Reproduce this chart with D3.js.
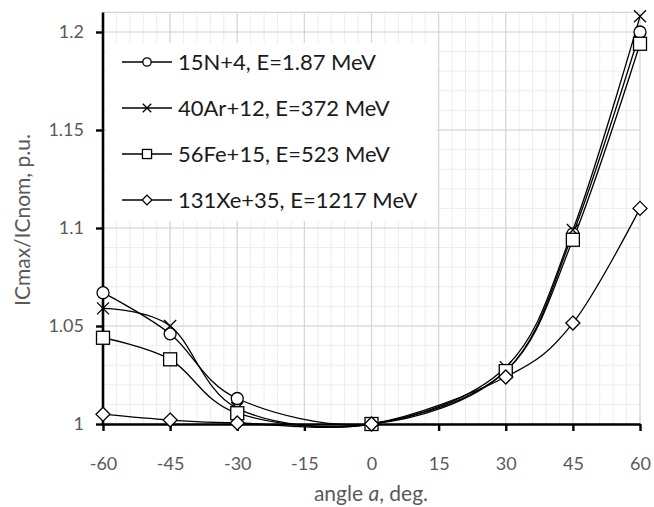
<!DOCTYPE html>
<html>
<head>
<meta charset="utf-8">
<script src="https://cdn.jsdelivr.net/npm/d3@7"></script>
<style>
  html, body { margin: 0; padding: 0; background: #fff; }
  svg { display: block; font-family: "Lato", "Open Sans", sans-serif; }
</style>
</head>
<body>
<svg id="chart" width="654" height="507"></svg>
<script>
// ---- data ----
const angles = [-60, -45, -30, 0, 30, 45, 60];
const seriesNames = ["15N+4, E=1.87 MeV", "40Ar+12, E=372 MeV", "56Fe+15, E=523 MeV", "131Xe+35, E=1217 MeV"];
const n15 = [1.067, 1.046, 1.013, 1.000, 1.027, 1.097, 1.200];
const ar40 = [1.059, 1.050, 1.008, 1.000, 1.029, 1.099, 1.208];
const fe56 = [1.044, 1.033, 1.0055, 1.000, 1.027, 1.094, 1.194];
const xe131 = [1.005, 1.002, 1.0005, 1.000, 1.024, 1.0515, 1.110];
const markers = ["circle", "cross", "square", "diamond"];
const xTicks = [-60, -45, -30, -15, 0, 15, 30, 45, 60];
const xTickLabels = ["-60", "-45", "-30", "-15", "0", "15", "30", "45", "60"];
const yTicks = [1, 1.05, 1.1, 1.15, 1.2];
const yTickLabels = ["1", "1.05", "1.1", "1.15", "1.2"];
const xTitle = ["angle ", "a", ", deg."];
const yTitle = "ICmax/ICnom, p.u.";

const allSeries = [n15, ar40, fe56, xe131];

// ---- layout ----
const svg = d3.select("#chart");
const L = 103, R = 640, T = 12.4, B = 424;
const x = d3.scaleLinear().domain([-60, 60]).range([L, R]);
const y = d3.scaleLinear().domain([1, 1.21]).range([B, T]);

// grid: minor
const g = svg.append("g");
g.selectAll(".mx").data(d3.range(-60, 61, 3)).join("line")
  .attr("x1", d => x(d)).attr("x2", d => x(d)).attr("y1", T).attr("y2", B)
  .attr("stroke", "#ededed").attr("stroke-width", 1);
g.selectAll(".my").data(d3.range(0, 22).map(i => 1 + i * 0.01)).join("line")
  .attr("x1", L).attr("x2", R).attr("y1", d => y(d)).attr("y2", d => y(d))
  .attr("stroke", "#ededed").attr("stroke-width", 1);
// grid: major
g.append("g").selectAll("line").data(xTicks).join("line")
  .attr("x1", d => x(d)).attr("x2", d => x(d)).attr("y1", T).attr("y2", B)
  .attr("stroke", "#d6d6d6").attr("stroke-width", 1.2);
g.append("g").selectAll("line").data(yTicks.concat([1.21])).join("line")
  .attr("x1", L).attr("x2", R).attr("y1", d => y(d)).attr("y2", d => y(d))
  .attr("stroke", "#d6d6d6").attr("stroke-width", 1.2);

// legend background
svg.append("rect").attr("x", 106).attr("y", 43).attr("width", 331).attr("height", 178).attr("fill", "#fff");

// axes
const xAxis = d3.axisBottom(x).tickValues(xTicks).tickSize(7).tickSizeOuter(0).tickPadding(26)
  .tickFormat((d, i) => xTickLabels[i]);
const yAxis = d3.axisLeft(y).tickValues(yTicks).tickSize(7).tickSizeOuter(0).tickPadding(12)
  .tickFormat((d, i) => yTickLabels[i]);

const gx = svg.append("g").attr("transform", `translate(0,${B})`).call(xAxis);
const gy = svg.append("g").attr("transform", `translate(${L},0)`).call(yAxis);
[gx, gy].forEach(a => {
  a.select(".domain").attr("stroke", "#000").attr("stroke-width", 2.6);
  a.selectAll(".tick text").attr("fill", "#595959").attr("font-size", 18).attr("font-family", "Lato, sans-serif");
});
gx.selectAll(".tick line").attr("stroke", "#000").attr("stroke-width", 2.4).attr("y1", 0).attr("y2", 7);
gy.selectAll(".tick line").attr("stroke", "#000").attr("stroke-width", 2.4);
gy.select(".domain").attr("d", `M0,${B}V${T}`);

// lines
const line = d3.line().x((d, i) => x(angles[i])).y(d => y(d)).curve(d3.curveCatmullRom.alpha(0));
const sg = svg.append("g");
allSeries.forEach(s => {
  sg.append("path").attr("d", line(s)).attr("fill", "none").attr("stroke", "#000").attr("stroke-width", 1.3);
});

function drawMarker(sel, type, cx, cy, sc) {
  if (type === "circle") {
    sel.append("circle").attr("cx", cx).attr("cy", cy).attr("r", 6 * sc)
      .attr("fill", "#fff").attr("stroke", "#000").attr("stroke-width", 1.3);
  } else if (type === "square") {
    const h = 6.5 * sc;
    sel.append("rect").attr("x", cx - h).attr("y", cy - h).attr("width", 2 * h).attr("height", 2 * h)
      .attr("fill", "#fff").attr("stroke", "#000").attr("stroke-width", 1.3);
  } else if (type === "diamond") {
    const h = 7 * sc;
    sel.append("path").attr("d", `M${cx},${cy - h}L${cx + h},${cy}L${cx},${cy + h}L${cx - h},${cy}Z`)
      .attr("fill", "#fff").attr("stroke", "#000").attr("stroke-width", 1.3);
  } else {
    const h = 6 * sc;
    sel.append("path").attr("d", `M${cx - h},${cy - h}L${cx + h},${cy + h}M${cx + h},${cy - h}L${cx - h},${cy + h}`)
      .attr("fill", "none").attr("stroke", "#000").attr("stroke-width", 1.3);
  }
}

const mg = svg.append("g");
allSeries.forEach((s, si) => {
  s.forEach((v, i) => drawMarker(mg, markers[si], x(angles[i]), y(v), 1));
});

// legend
const lg = svg.append("g");
const rowY = [62, 108, 154, 200];
seriesNames.forEach((name, i) => {
  lg.append("line").attr("x1", 122).attr("x2", 172).attr("y1", rowY[i]).attr("y2", rowY[i])
    .attr("stroke", "#000").attr("stroke-width", 1.3);
  drawMarker(lg, markers[i], 147, rowY[i], 0.7);
  lg.append("text").attr("x", 178).attr("y", rowY[i]).attr("dy", "0.36em")
    .attr("font-size", 22).attr("fill", "#1a1a1a").text(name);
});

// axis titles
const xt = svg.append("text").attr("x", 371).attr("y", 501).attr("text-anchor", "middle")
  .attr("font-size", 21).attr("fill", "#595959");
xt.append("tspan").text(xTitle[0]);
xt.append("tspan").attr("font-style", "italic").text(xTitle[1]);
xt.append("tspan").text(xTitle[2]);

svg.append("text").attr("transform", "translate(30,220) rotate(-90)").attr("text-anchor", "middle")
  .attr("font-size", 21).attr("fill", "#595959").text(yTitle);
</script>
</body>
</html>
